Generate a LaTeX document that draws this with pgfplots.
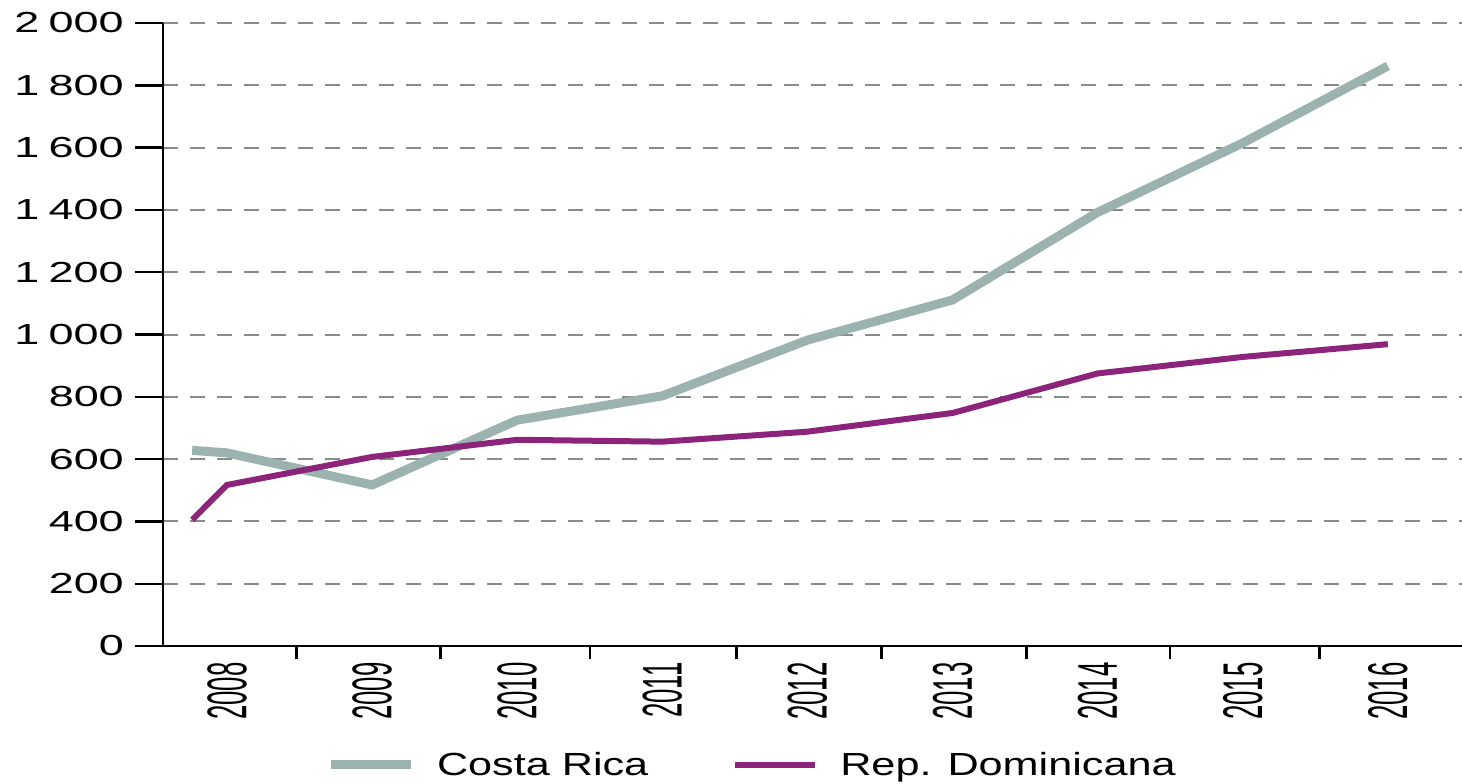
\documentclass[border=0pt]{standalone}
\usepackage{pgfplots}
\pgfplotsset{compat=1.18}
\usepackage{fontspec}
\setmainfont{Liberation Sans}
\newfontfamily\yfont[FakeStretch=1.55]{Liberation Sans}
\newfontfamily\xfont[FakeStretch=0.46]{Liberation Sans}
\newfontfamily\lfont[FakeStretch=1.35]{Liberation Sans}
\definecolor{crcol}{RGB}{155,178,174}
\definecolor{rdcol}{RGB}{139,36,122}
\definecolor{gridcol}{RGB}{138,138,138}
\newcommand\ts{\hspace{0.32em}}
\begin{document}
\begin{tikzpicture}
\begin{axis}[
  scale only axis, width=649.5pt, height=311.5pt,
  xmin=2007.559, xmax=2016.511, ymin=0, ymax=2000,
  axis lines=left,
  axis line style={-, line width=1.2pt, black},
  tick style={line width=1.2pt, black},
  tick align=outside,
  major tick length=14pt,
  minor tick length=6.5pt,
  xtick={2008,2009,2010,2011,2012,2013,2014,2015,2016},
  xticklabels={2008,2009,2010,2011,2012,2013,2014,2015,2016},
  major x tick style={draw=none},
  minor xtick={2008.48,2009.47,2010.5,2011.51,2012.51,2013.51,2014.5,2015.53},
  xticklabel style={yshift=6pt, font=\xfont\fontsize{28pt}{28pt}\selectfont, rotate=90, anchor=east, inner sep=0pt},
  ytick={0,200,400,600,800,1000,1200,1400,1600,1800,2000},
  yticklabels={0,200,400,600,800,1\ts000,1\ts200,1\ts400,1\ts600,1\ts800,2\ts000},
  yticklabel style={xshift=-5.5pt, font=\yfont\fontsize{14.5pt}{14.5pt}\selectfont, anchor=east, inner sep=0pt},
  ymajorgrids,
  major grid style={gridcol, line width=1pt, dash pattern=on 7.5pt off 6pt},
  legend columns=2,
  legend style={at={(0.1255,-0.191)}, anchor=west, draw=none, fill=none,
    inner sep=0pt, outer sep=0pt,
    font=\lfont\fontsize{16pt}{16pt}\selectfont,
    nodes={inner sep=0pt},
    /tikz/every odd column/.style={column sep=11pt},
    /tikz/every even column/.style={column sep=42pt}},
  legend image code/.code={\draw[#1] (0pt,0pt) -- (40pt,0pt);},
]
\addplot[crcol, line width=4.5pt] coordinates {
  (2007.76,628) (2008,620) (2009,517) (2010,725) (2011,803) (2012,982)
  (2013,1111) (2014,1392) (2015,1615) (2016,1862)};
\addlegendentry{Costa Rica}
\addplot[rdcol, line width=3pt] coordinates {
  (2007.76,405) (2008,517) (2009,607) (2010,662) (2011,656) (2012,688)
  (2013,748) (2014,875) (2015,928) (2016,969)};
\addlegendentry{Rep. Dominicana}
\coordinate (sw) at (rel axis cs:0,0);
\coordinate (ne) at (rel axis cs:1,1);
\end{axis}
\pgfresetboundingbox
\path ([shift={(-81.5pt,-68.5pt)}]sw) rectangle ([shift={(0pt,11.5pt)}]ne);
\end{tikzpicture}
\end{document}
